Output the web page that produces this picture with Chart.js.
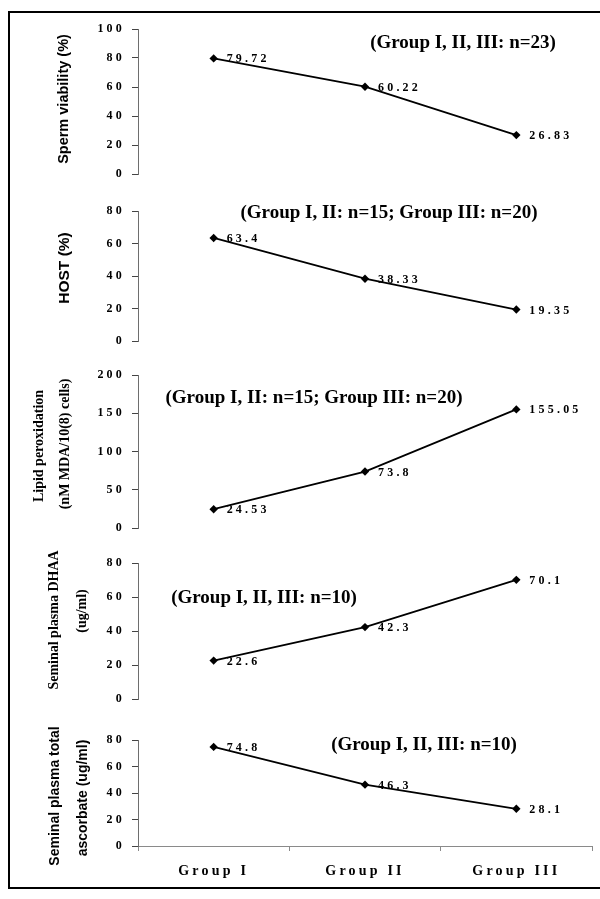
<!DOCTYPE html>
<html>
<head>
<meta charset="utf-8">
<script src="https://cdn.jsdelivr.net/npm/chart.js@4.4.1/dist/chart.umd.min.js"></script>
<style>
body
{
    margin: 0;
    background: #fff;
    width: 600px;
    height: 899px;
    position: relative;
    overflow: hidden;
}

#frame
{
    position: absolute;
    left: 8px;
    top: 11px;
    width: 640px;
    height: 874px;
    border: 2px solid #000;
}

canvas
{
    position: absolute;
    left: 0;
}
</style>
</head>
<body>
<div id="frame"></div>
<div id="panels"></div>
<script>
// groups on the x axis
const groups = ["Group I", "Group II", "Group III"];

// one series per panel, top to bottom
const spermViability = [79.72, 60.22, 26.83];
const hostValues = [63.4, 38.33, 19.35];
const lipidPeroxidation = [24.53, 73.8, 155.05];
const seminalDhaa = [22.6, 42.3, 70.1];
const totalAscorbate = [74.8, 46.3, 28.1];

// y tick labels
const viabilityTicks = [0, 20, 40, 60, 80, 100];
const hostTicks = [0, 20, 40, 60, 80];
const lipidTicks = [0, 50, 100, 150, 200];
const dhaaTicks = [0, 20, 40, 60, 80];
const ascorbateTicks = [0, 20, 40, 60, 80];

// axis titles and sample size notes
const axisTitles = [
    ["Sperm viability (%)"],
    ["HOST (%)"],
    ["Lipid peroxidation", "(nM MDA/10(8) cells)"],
    ["Seminal plasma DHAA", "(ug/ml)"],
    ["Seminal plasma total", "ascorbate (ug/ml)"]
];

const sampleNotes = [
    "(Group I, II, III: n=23)",
    "(Group I, II: n=15; Group III: n=20)",
    "(Group I, II: n=15; Group III: n=20)",
    "(Group I, II, III: n=10)",
    "(Group I, II, III: n=10)"
];

const SERIF = '"Liberation Serif", "Times New Roman", serif';
const SANS = '"Liberation Sans", Arial, sans-serif';

const AXIS_X = 138;
const RIGHT_EDGE = 592;
const PAD = 20;
const X_AXIS_HEIGHT = 40;

// page layout of each panel (chart area top/bottom, title and note placement)
const panels = [
    {
        values: spermViability, ticks: viabilityTicks,
        top: 29, bottom: 174,
        titleFont: "bold 14.5px " + SANS, titleX: [64], titleY: [99],
        noteX: 463, noteY: 43
    },
    {
        values: hostValues, ticks: hostTicks,
        top: 211, bottom: 341,
        titleFont: "bold 15.5px " + SANS, titleX: [65], titleY: [268],
        noteX: 389, noteY: 213
    },
    {
        values: lipidPeroxidation, ticks: lipidTicks,
        top: 375, bottom: 528,
        titleFont: "bold 14px " + SERIF, titleX: [39, 65], titleY: [446, 444],
        noteX: 314, noteY: 398
    },
    {
        values: seminalDhaa, ticks: dhaaTicks,
        top: 563, bottom: 699,
        titleFont: "bold 14px " + SERIF, titleX: [54, 82], titleY: [620, 611],
        noteX: 264, noteY: 598
    },
    {
        values: totalAscorbate, ticks: ascorbateTicks,
        top: 740, bottom: 846,
        titleFont: "bold 14px " + SANS, titleX: [55, 83], titleY: [796, 798],
        noteX: 424, noteY: 745,
        showX: true
    }
];

function makeChart(panel, index)
{
    const canvasTop =
        panel.top - PAD;

    const extraBottom =
        panel.showX ? X_AXIS_HEIGHT : 0;

    const height =
        panel.bottom - panel.top + PAD * 2 + extraBottom;

    const canvas =
        document.createElement("canvas");

    canvas.width = 600;
    canvas.height = height;
    canvas.style.top = canvasTop + "px";
    document.getElementById("panels").appendChild(canvas);

    const decorations =
    {
        id: "decorations",
        beforeDraw(chart)
        {
            chart.ctx.letterSpacing = "3.2px";
        },
        afterDatasetsDraw(chart)
        {
            const ctx = chart.ctx;
            const meta = chart.getDatasetMeta(0);

            ctx.save();
            ctx.letterSpacing = "3.2px";
            ctx.font = "bold 12px " + SERIF;
            ctx.fillStyle = "#000";
            ctx.textAlign = "left";
            ctx.textBaseline = "middle";

            meta.data.forEach((pt, i) =>
            {
                ctx.fillText(String(panel.values[i]), pt.x + 13, pt.y + 1);
            });

            ctx.restore();
        },
        afterDraw(chart)
        {
            const ctx = chart.ctx;

            ctx.save();
            ctx.letterSpacing = "0px";
            ctx.fillStyle = "#000";

            // rotated y axis title
            axisTitles[index].forEach((line, i) =>
            {
                ctx.save();
                ctx.translate(panel.titleX[i], panel.titleY[i] - canvasTop);
                ctx.rotate(-Math.PI / 2);
                ctx.font = panel.titleFont;
                ctx.textAlign = "center";
                ctx.textBaseline = "middle";
                ctx.fillText(line, 0, 0);
                ctx.restore();
            });

            // sample size note
            ctx.font = "bold 19px " + SERIF;
            ctx.textAlign = "center";
            ctx.textBaseline = "middle";
            ctx.fillText(sampleNotes[index], panel.noteX, panel.noteY - canvasTop);

            ctx.restore();
        }
    };

    return new Chart(canvas,
    {
        type: "line",
        data:
        {
            labels: groups,
            datasets: [
            {
                data: panel.values,
                borderColor: "#000",
                backgroundColor: "#000",
                borderWidth: 1.8,
                pointStyle: "rectRot",
                pointRadius: 4.2,
                pointBorderWidth: 0,
                tension: 0
            }]
        },
        options:
        {
            responsive: false,
            animation: false,
            devicePixelRatio: 1,
            layout:
            {
                padding:
                {
                    left: 0,
                    right: 600 - RIGHT_EDGE,
                    top: PAD,
                    bottom: PAD
                }
            },
            plugins:
            {
                legend: { display: false },
                tooltip: { enabled: false }
            },
            scales:
            {
                x:
                {
                    display: !!panel.showX,
                    offset: true,
                    afterFit: s =>
                    {
                        s.height = panel.showX ? X_AXIS_HEIGHT : 0;
                    },
                    border: { display: true, color: "#8a8a8a", width: 1 },
                    grid:
                    {
                        offset: true,
                        drawOnChartArea: false,
                        drawTicks: true,
                        tickLength: 5,
                        color: "#8a8a8a"
                    },
                    ticks:
                    {
                        color: "#000",
                        padding: 12,
                        font: { family: SERIF, weight: "bold", size: 14 }
                    }
                },
                y:
                {
                    min: panel.ticks[0],
                    max: panel.ticks[panel.ticks.length - 1],
                    afterBuildTicks: s =>
                    {
                        s.ticks = panel.ticks.map(v => ({ value: v }));
                    },
                    afterFit: s => { s.width = AXIS_X; },
                    border: { display: true, color: "#6e6e6e", width: 1 },
                    grid:
                    {
                        drawOnChartArea: false,
                        drawTicks: true,
                        tickLength: 6,
                        color: "#444"
                    },
                    ticks:
                    {
                        color: "#000",
                        padding: 7,
                        font: { family: SERIF, weight: "bold", size: 12 }
                    }
                }
            }
        },
        plugins: [decorations]
    });
}

panels.forEach((panel, i) => makeChart(panel, i));
</script>
</body>
</html>
